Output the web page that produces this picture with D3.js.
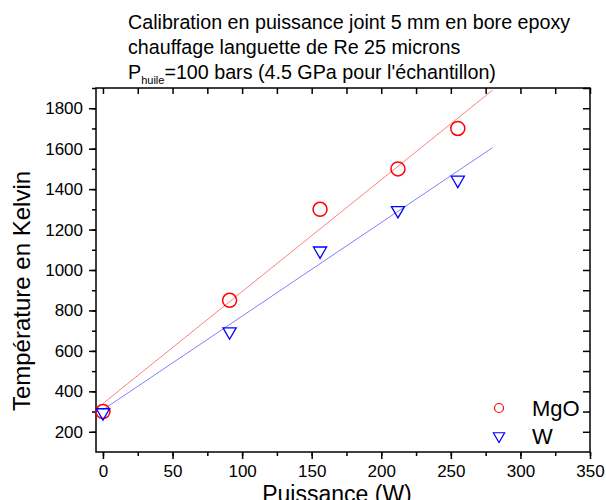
<!DOCTYPE html>
<html>
<head>
<meta charset="utf-8">
<script src="https://cdn.jsdelivr.net/npm/d3@7"></script>
<style>
  body { margin: 0; background: #fff; }
  text { font-family: "Liberation Sans", Arial, sans-serif; fill: #000; }
</style>
</head>
<body>
<svg id="chart" width="606" height="500"></svg>
<script>
// data
var power = [0, 91, 156, 212, 255];        // Puissance (W)
var tempMgO = [300, 850, 1300, 1500, 1700]; // MgO
var tempW = [300, 700, 1100, 1300, 1450];   // W
var fitEnd = 280;                           // fit lines drawn up to 280 W
var xTicks = [0, 50, 100, 150, 200, 250, 300, 350];
var yTicks = [200, 400, 600, 800, 1000, 1200, 1400, 1600, 1800];
var seriesNames = ["MgO", "W"];
var titleLines = ["Calibration en puissance joint 5 mm en bore epoxy",
                  "chauffage languette de Re 25 microns"];

var svg = d3.select("#chart");
// note: "top" is taken by window.top, so plot edges get their own names
var plotLeft = 96, plotRight = 590, plotTop = 88, plotBottom = 452;

var x = d3.scaleLinear().domain([-5, 350]).range([plotLeft, plotRight]);
var y = d3.scaleLinear().domain([100, 1900]).range([plotBottom, plotTop]);

// least squares fit, like the original software did
function fit(xs, ys) {
    var mx = d3.mean(xs), my = d3.mean(ys);
    var sxy = d3.sum(xs, function (d, i) { return (d - mx) * (ys[i] - my); });
    var sxx = d3.sum(xs, function (d) { return (d - mx) * (d - mx); });
    var b = sxy / sxx;
    return { a: my - b * mx, b: b };
}

var line = d3.line()
    .x(function (d) { return x(d[0]); })
    .y(function (d) { return y(d[1]); });

function drawFit(ys, color) {
    var f = fit(power, ys);
    svg.append("path")
        .attr("d", line([[0, f.a], [fitEnd, f.a + f.b * fitEnd]]))
        .attr("fill", "none")
        .attr("stroke", color)
        .attr("stroke-width", 1);
}
drawFit(tempMgO, "#ff8080");
drawFit(tempW, "#8080ff");

// axes
var minorX = d3.range(0, 351, 25);
var minorY = d3.range(200, 1901, 100);

svg.append("g")
    .attr("transform", "translate(0," + plotBottom + ")")
    .call(d3.axisBottom(x).tickValues(minorX).tickSize(4).tickFormat(""));
svg.append("g")
    .attr("class", "xAxis")
    .attr("transform", "translate(0," + plotBottom + ")")
    .call(d3.axisBottom(x).tickValues(xTicks).tickSize(7).tickPadding(6).tickFormat(d3.format("d")));

svg.append("g")
    .attr("transform", "translate(" + plotLeft + ",0)")
    .call(d3.axisLeft(y).tickValues(minorY).tickSize(4).tickFormat(""));
svg.append("g")
    .attr("class", "yAxis")
    .attr("transform", "translate(" + plotLeft + ",0)")
    .call(d3.axisLeft(y).tickValues(yTicks).tickSize(7).tickPadding(6).tickFormat(d3.format("d")));

svg.append("g")
    .attr("transform", "translate(0," + plotTop + ")")
    .call(d3.axisBottom(x).tickValues(minorX).tickSize(6).tickFormat(""));
svg.append("g")
    .attr("transform", "translate(" + plotRight + ",0)")
    .call(d3.axisLeft(y).tickValues(minorY).tickSize(7).tickFormat(""));

svg.selectAll(".domain").remove();
svg.selectAll(".tick line").attr("stroke", "#000").attr("stroke-width", 1.5);
svg.selectAll(".xAxis text, .yAxis text").style("font-size", "17px").attr("fill", "#000");

svg.append("rect")
    .attr("x", plotLeft).attr("y", plotTop)
    .attr("width", plotRight - plotLeft).attr("height", plotBottom - plotTop)
    .attr("fill", "none").attr("stroke", "#000").attr("stroke-width", 1.5);

// markers
var tri = d3.symbol().type(d3.symbolTriangle).size(75);

svg.selectAll("circle.mgo")
    .data(power)
    .enter()
    .append("circle")
    .attr("class", "mgo")
    .attr("cx", function (d) { return x(d); })
    .attr("cy", function (d, i) { return y(tempMgO[i]); })
    .attr("r", 7)
    .attr("fill", "none")
    .attr("stroke", "#ff0000")
    .attr("stroke-width", 1.5);

svg.selectAll("path.w")
    .data(power)
    .enter()
    .append("path")
    .attr("class", "w")
    .attr("d", tri)
    .attr("transform", function (d, i) {
        return "translate(" + x(d) + "," + (y(tempW[i]) + 1) + ") rotate(180)";
    })
    .attr("fill", "none")
    .attr("stroke", "#0000ff")
    .attr("stroke-width", 1.3);

// legend
var legend = svg.selectAll(".legend")
    .data(seriesNames)
    .enter()
    .append("g")
    .attr("class", "legend")
    .attr("transform", function (d, i) { return "translate(499," + (408 + i * 28) + ")"; });

legend.each(function (d, i) {
    var g = d3.select(this);
    if (i === 0) {
        g.append("circle").attr("r", 4.5).attr("fill", "none")
            .attr("stroke", "#ff0000").attr("stroke-width", 1.2);
    } else {
        g.append("path").attr("d", d3.symbol().type(d3.symbolTriangle).size(55))
            .attr("transform", "rotate(180)")
            .attr("fill", "none").attr("stroke", "#0000ff").attr("stroke-width", 1.2);
    }
});
legend.append("text")
    .attr("x", 33)
    .attr("y", 8)
    .style("font-size", "22px")
    .text(function (d) { return d; });

// axis titles
svg.append("text")
    .attr("text-anchor", "middle")
    .attr("x", 337)
    .attr("y", 502)
    .style("font-size", "23px")
    .text("Puissance (W)");

svg.append("text")
    .attr("text-anchor", "middle")
    .attr("transform", "translate(30,291) rotate(-90)")
    .style("font-size", "24px")
    .text("Température en Kelvin");

// title
svg.selectAll(".title")
    .data(titleLines)
    .enter()
    .append("text")
    .attr("class", "title")
    .attr("x", 128)
    .attr("y", function (d, i) { return 29 + i * 25; })
    .style("font-size", "19.7px")
    .text(function (d) { return d; });

var t3 = svg.append("text")
    .attr("x", 128)
    .attr("y", 79)
    .style("font-size", "19.7px");
t3.append("tspan").text("P");
t3.append("tspan").attr("dy", 5).style("font-size", "11px").attr("fill", "#000").text("huile");
t3.append("tspan").attr("dy", -5).text("=100 bars (4.5 GPa pour l'échantillon)");
</script>
</body>
</html>
